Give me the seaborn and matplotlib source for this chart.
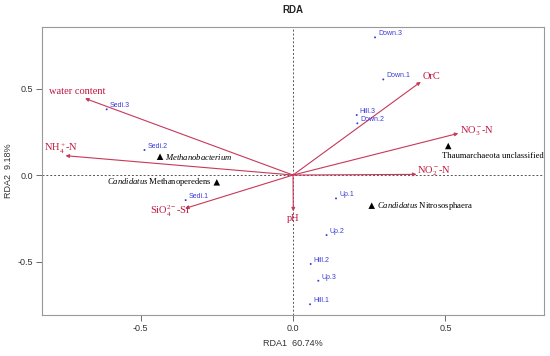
"""RDA biplot — sites, species and environmental vectors"""
import matplotlib
matplotlib.use("Agg")
import matplotlib.pyplot as plt
import seaborn as sns
import pandas as pd

# Sites (RDA1, RDA2)
site_names = ["Down.3", "Down.1", "Hill.3", "Down.2", "Sedi.3", "Sedi.2", "Sedi.1",
              "Up.1", "Up.2", "Hill.2", "Up.3", "Hill.1"]
site_rda1 = [0.269, 0.296, 0.209, 0.211, -0.611, -0.487, -0.352,
             0.141, 0.110, 0.058, 0.083, 0.056]
site_rda2 = [0.796, 0.553, 0.347, 0.299, 0.380, 0.145, -0.145,
             -0.135, -0.347, -0.514, -0.611, -0.747]

# Species
species_names = ["Methanobacterium", "Candidatus Methanoperedens",
                 "Thaumarchaeota unclassified", "Candidatus Nitrososphaera"]
species_labels = [r"$\it{Methanobacterium}$", r"$\it{Candidatus}$ Methanoperedens",
                  "Thaumarchaeota unclassified", r"$\it{Candidatus}$ Nitrososphaera"]
species_rda1 = [-0.436, -0.250, 0.509, 0.258]
species_rda2 = [0.106, -0.042, 0.168, -0.177]

# Environmental variables (arrow heads)
env_labels = ["water content", r"NH$_4^+$-N", r"SiO$_4^{2-}$-Si", "pH",
              r"NO$_2^-$-N", r"NO$_3^-$-N", "OrC"]
env_rda1 = [-0.682, -0.746, -0.354, 0.001, 0.405, 0.542, 0.419]
env_rda2 = [0.443, 0.112, -0.193, -0.210, 0.004, 0.241, 0.539]

sns.set_style("white")
plt.rcParams["font.family"] = ["Liberation Sans", "DejaVu Sans"]
plt.rcParams["axes.unicode_minus"] = False
plt.rcParams["mathtext.fontset"] = "custom"
plt.rcParams["mathtext.rm"] = "Liberation Serif"
plt.rcParams["mathtext.it"] = "Liberation Serif:italic"
plt.rcParams["mathtext.bf"] = "Liberation Serif:bold"

sites = pd.DataFrame({"name": site_names, "RDA1": site_rda1, "RDA2": site_rda2})
spec = pd.DataFrame({"name": species_names, "RDA1": species_rda1, "RDA2": species_rda2})

fig = plt.figure(figsize=(5.5, 3.56), dpi=100)
ax = fig.add_axes([0.0764, 0.1152, 0.9127, 0.808])

ax.axhline(0, color="#555555", lw=0.7, ls=(0, (2, 2)), zorder=1)
ax.axvline(0, color="#555555", lw=0.7, ls=(0, (2, 2)), zorder=1)

# env arrows
env_col = "#c8385a"
txt_col = "#c0143c"
label_off = [(-8, 7), (-4, 7), (-15, -3), (0, -7), (18, 3), (19, 2), (11, 5)]
for lab, x, y, (dx, dy) in zip(env_labels, env_rda1, env_rda2, label_off):
    ax.annotate("", xy=(x, y), xytext=(0, 0),
                arrowprops=dict(arrowstyle="-|>", color=env_col, lw=0.8,
                                mutation_scale=5, shrinkA=0, shrinkB=0))
    ax.annotate(lab, xy=(x, y), xytext=(dx * 0.72, dy * 0.72),
                textcoords="offset points", ha="center", va="center",
                color=txt_col, fontsize=7.5, family="Liberation Serif")

# sites
sns.scatterplot(data=sites, x="RDA1", y="RDA2", ax=ax, color="#3b3bd6",
                marker="o", s=2, edgecolor="none", zorder=3)
for _, r in sites.iterrows():
    ax.annotate(r["name"], xy=(r["RDA1"], r["RDA2"]), xytext=(2.2, 2.5),
                textcoords="offset points", ha="left", va="center",
                color="#3b3bd6", fontsize=5)

# species
sns.scatterplot(data=spec, x="RDA1", y="RDA2", ax=ax, color="black",
                marker="^", s=22, edgecolor="none", zorder=3)
sp_off = [(5, 0, "left"), (-5, 0, "right"), (-6.6, -10, "left"), (5, 0, "left")]
for lab, x, y, (dx, dy, ha) in zip(species_labels, species_rda1, species_rda2, sp_off):
    ax.annotate(lab, xy=(x, y), xytext=(dx * 0.72, dy * 0.72),
                textcoords="offset points", ha=ha, va="center",
                color="black", fontsize=6.2, family="Liberation Serif")

ax.set_xlim(-0.823, 0.823)
ax.set_ylim(-0.809, 0.854)
ax.set_xticks([-0.5, 0.0, 0.5])
ax.set_yticks([-0.5, 0.0, 0.5])
ax.set_xticklabels(["-0.5", "0.0", "0.5"])
ax.set_yticklabels(["-0.5", "0.0", "0.5"])
ax.tick_params(axis="both", direction="out", length=4, width=0.6,
               color="#555555", labelsize=6.5, labelcolor="#333333",
               bottom=True, left=True, pad=2.5)
for sp in ax.spines.values():
    sp.set_color("#999999")
    sp.set_linewidth(0.8)

ax.set_xlabel("RDA1  60.74%", fontsize=6.5, color="#333333", labelpad=4)
ax.set_ylabel("RDA2  9.18%", fontsize=6.5, color="#333333", labelpad=3)
ax.set_title("RDA", fontsize=7, fontweight="bold", pad=10)

fig.savefig("out.png", dpi=100)
